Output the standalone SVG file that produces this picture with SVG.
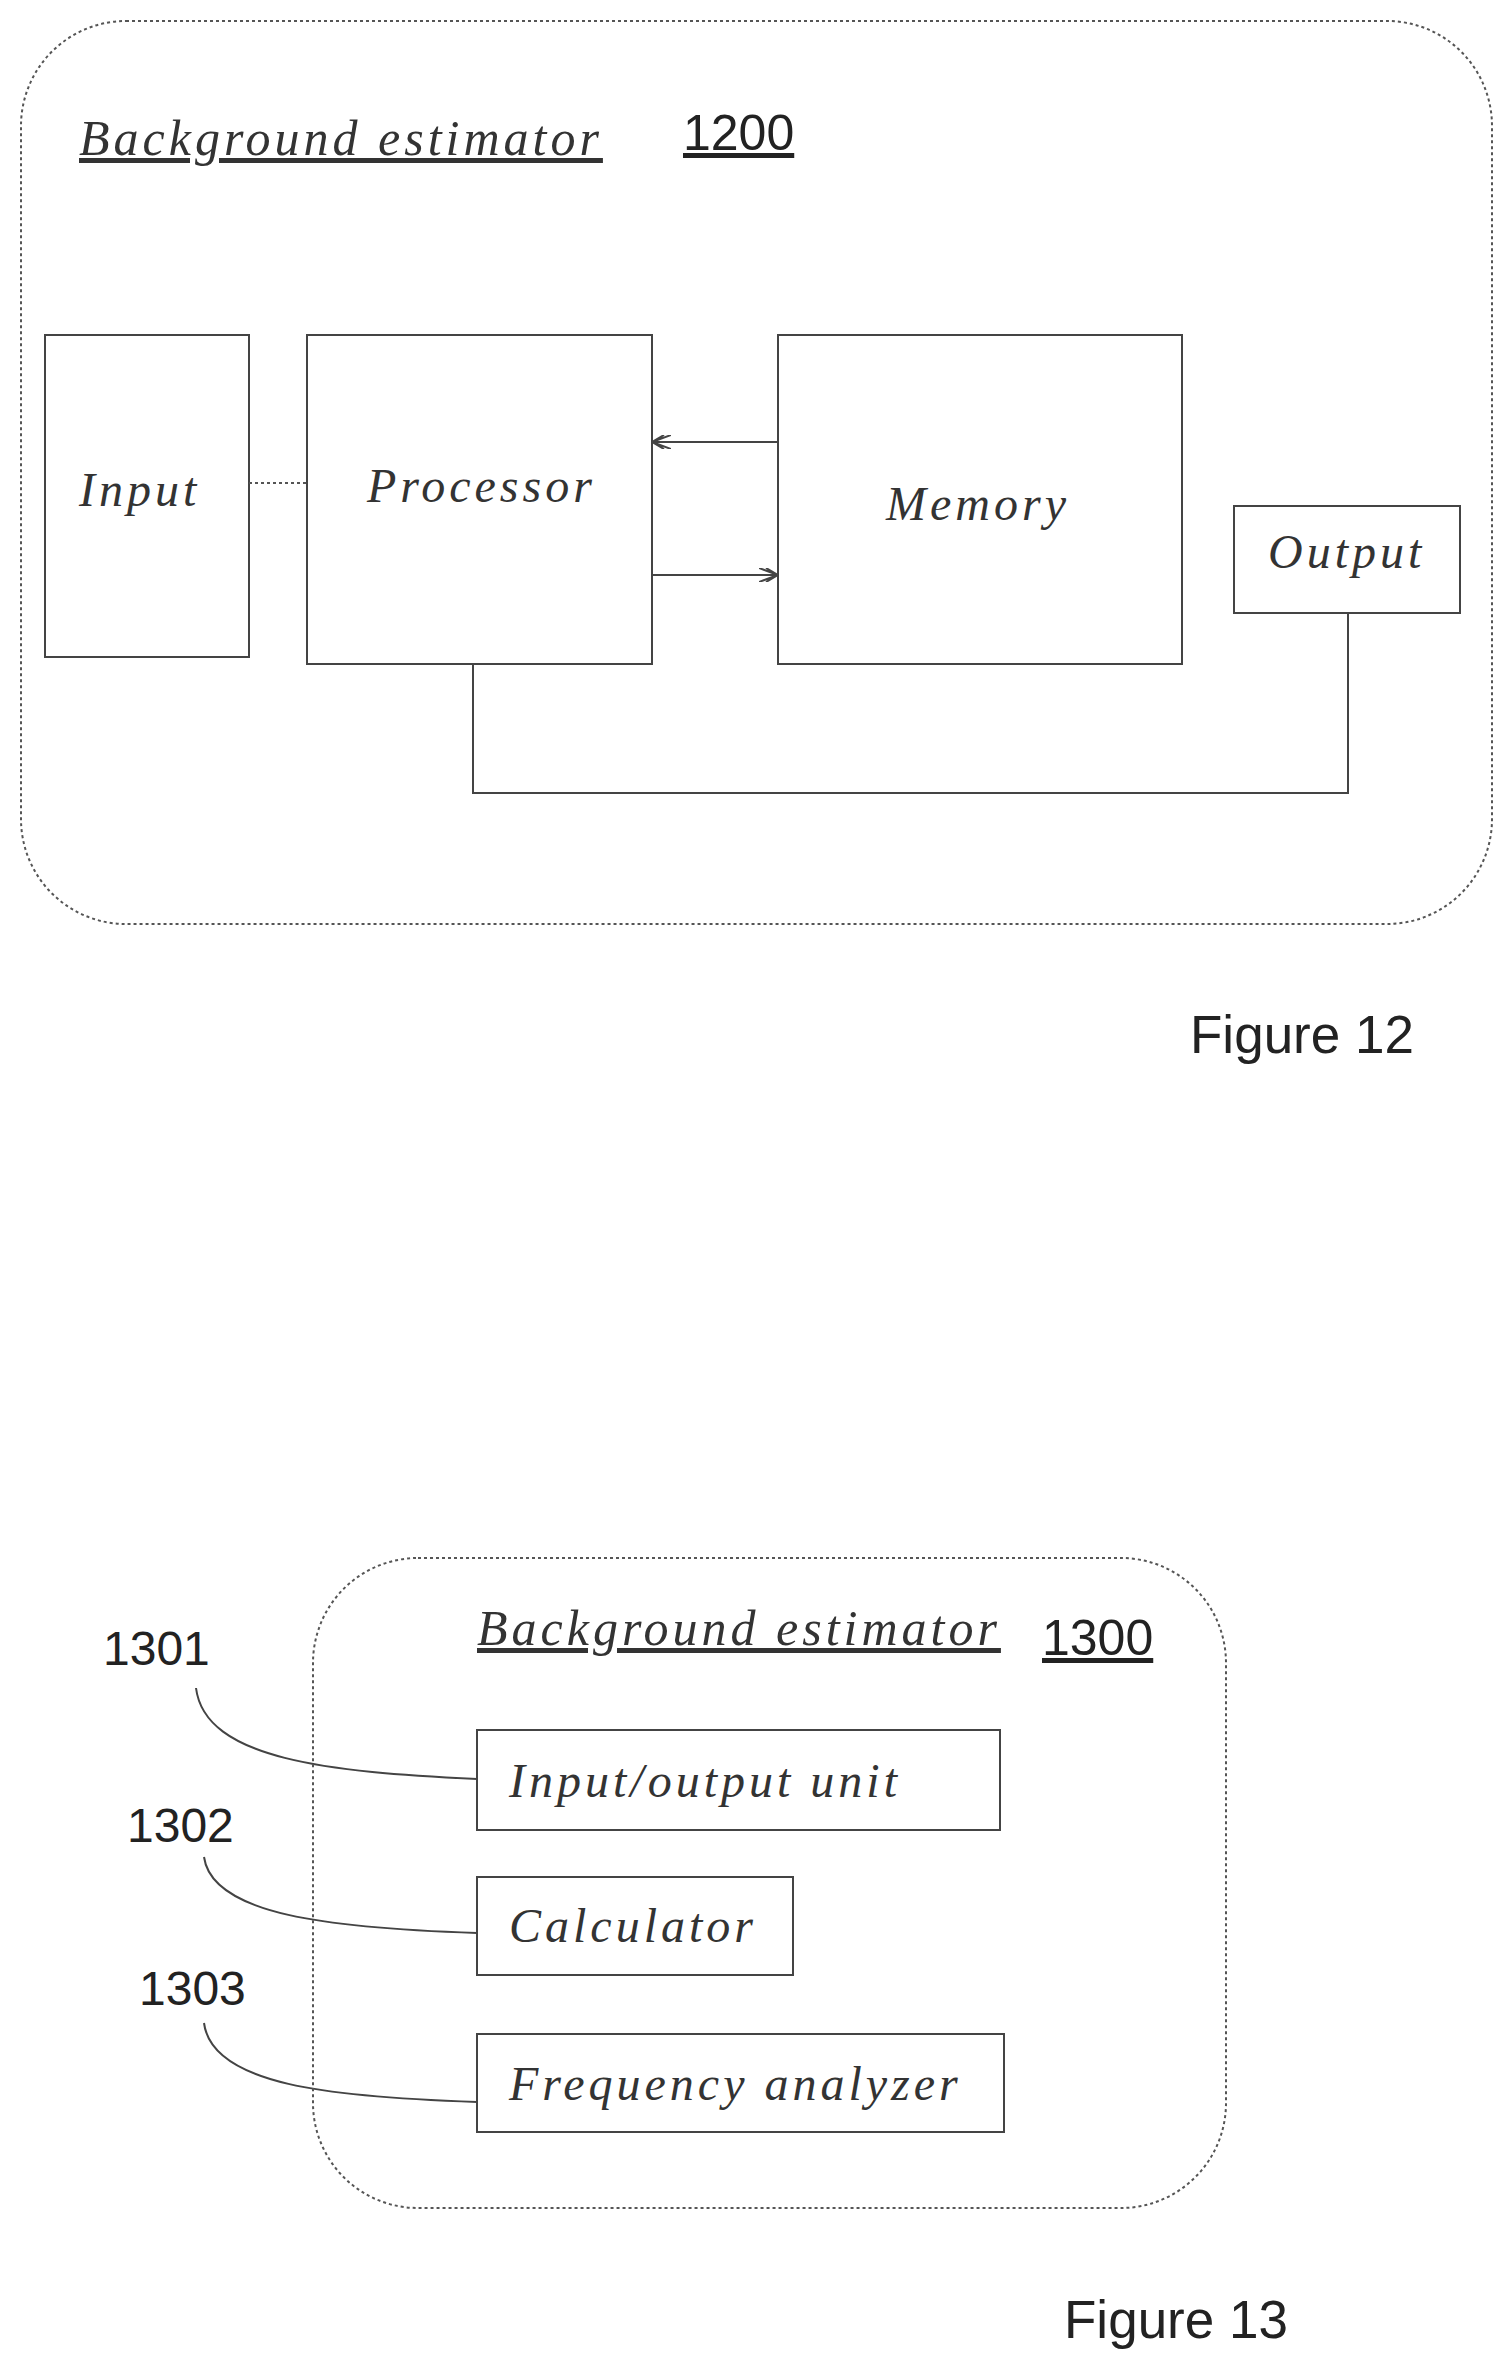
<svg xmlns="http://www.w3.org/2000/svg" width="1510" height="2365" viewBox="0 0 1510 2365">
<style>
.bx{fill:none;stroke:#444;stroke-width:2}
.dt{fill:none;stroke:#555;stroke-width:2;stroke-dasharray:3 3}
.ln{fill:none;stroke:#444;stroke-width:2}
.it{font-family:"Liberation Serif",serif;font-style:italic;fill:#333;letter-spacing:4px}
.sn{font-family:"Liberation Sans",sans-serif;fill:#222}
</style>
<defs>
<marker id="ah" markerWidth="20" markerHeight="14" refX="19" refY="7" orient="auto" markerUnits="userSpaceOnUse">
<path d="M0,0 L19,7 L0,14 M7,0 L19,7 L7,14" fill="none" stroke="#444" stroke-width="2"/>
</marker>
</defs>
<rect x="0" y="0" width="1510" height="2365" fill="#fff"/>
<g id="fig12">
<rect class="dt" x="21" y="21" width="1471" height="903" rx="105"/>
<text class="it" x="79" y="155" font-size="50" text-decoration="underline">Background estimator</text>
<text class="sn" x="683" y="150" font-size="50" text-decoration="underline">1200</text>
</g>
<g id="input"><rect class="bx" x="45" y="335" width="204" height="322"/><text class="it" x="79" y="506" font-size="48">Input</text></g>
<g id="processor"><rect class="bx" x="307" y="335" width="345" height="329"/><text class="it" x="367" y="502" font-size="48">Processor</text></g>
<g id="memory"><rect class="bx" x="778" y="335" width="404" height="329"/><text class="it" x="886" y="520" font-size="48">Memory</text></g>
<g id="output"><rect class="bx" x="1234" y="506" width="226" height="107"/><text class="it" x="1268" y="568" font-size="48">Output</text></g>
<g id="connectors">
<line class="dt" x1="249" y1="483" x2="307" y2="483"/>
<line class="ln" x1="778" y1="442" x2="652" y2="442" marker-end="url(#ah)"/>
<line class="ln" x1="652" y1="575" x2="778" y2="575" marker-end="url(#ah)"/>
<polyline class="ln" points="473,664 473,793 1348,793 1348,613"/>
<path class="ln" d="M196 1688 C205 1760,330 1772,477 1779"/>
<path class="ln" d="M204 1857 C212 1915,330 1928,477 1933"/>
<path class="ln" d="M204 2023 C212 2085,330 2097,477 2102"/>
</g>
<text class="sn" x="1190" y="1053" font-size="53">Figure 12</text>
<g id="fig13">
<rect class="dt" x="313" y="1558" width="913" height="650" rx="105"/>
<text class="it" x="477" y="1645" font-size="50" text-decoration="underline">Background estimator</text>
<text class="sn" x="1042" y="1655" font-size="50" text-decoration="underline">1300</text>
</g>
<g id="iounit"><rect class="bx" x="477" y="1730" width="523" height="100"/><text class="it" x="509" y="1797" font-size="48">Input/output unit</text></g>
<g id="calc"><rect class="bx" x="477" y="1877" width="316" height="98"/><text class="it" x="509" y="1942" font-size="48">Calculator</text></g>
<g id="freq"><rect class="bx" x="477" y="2034" width="527" height="98"/><text class="it" x="509" y="2100" font-size="48">Frequency analyzer</text></g>
<g id="labels">
<text class="sn" x="103" y="1665" font-size="48">1301</text>
<text class="sn" x="127" y="1842" font-size="48">1302</text>
<text class="sn" x="139" y="2005" font-size="48">1303</text>
</g>
<text class="sn" x="1064" y="2338" font-size="53">Figure 13</text>
</svg>
